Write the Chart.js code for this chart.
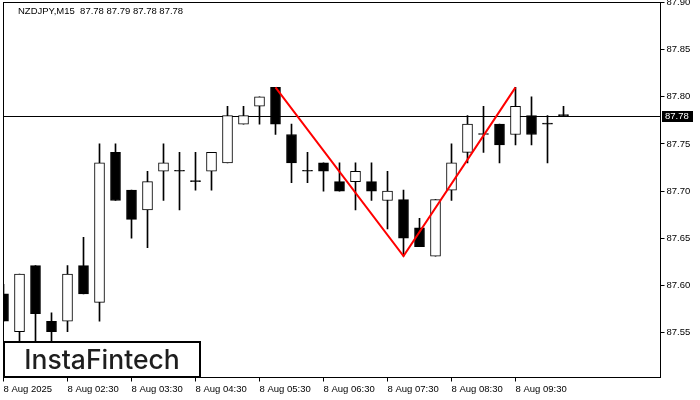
<!DOCTYPE html>
<html>
<head>
<meta charset="utf-8">
<script src="https://cdn.jsdelivr.net/npm/chart.js@4.4.1/dist/chart.umd.min.js"></script>
<style>
html, body { margin: 0; padding: 0; background: #fff; }
</style>
</head>
<body>
<canvas id="myChart" width="700" height="400"></canvas>
<script>
// NZDJPY M15, 8 Aug 2025
var symbol = 'NZDJPY,M15';
var times = ['01:30','01:45','02:00','02:15','02:30','02:45','03:00','03:15','03:30','03:45',
             '04:00','04:15','04:30','04:45','05:00','05:15','05:30','05:45','06:00','06:15',
             '06:30','06:45','07:00','07:15','07:30','07:45','08:00','08:15','08:30','08:45',
             '09:00','09:15','09:30','09:45','10:00','10:15'];
var opens  = [87.591,87.551,87.621,87.562,87.562,87.621,87.582,87.741,87.701,87.680,
              87.721,87.721,87.710,87.721,87.730,87.771,87.790,87.810,87.760,87.721,
              87.730,87.710,87.710,87.710,87.690,87.691,87.661,87.631,87.701,87.741,
              87.760,87.771,87.760,87.780,87.771,87.780];
var highs  = [87.601,87.612,87.621,87.571,87.621,87.651,87.750,87.750,87.701,87.721,
              87.750,87.741,87.741,87.741,87.790,87.790,87.800,87.810,87.771,87.741,
              87.730,87.730,87.730,87.730,87.721,87.701,87.671,87.691,87.750,87.780,
              87.790,87.771,87.810,87.800,87.780,87.790];
var lows   = [87.562,87.540,87.530,87.540,87.551,87.591,87.562,87.690,87.650,87.640,
              87.690,87.680,87.701,87.701,87.730,87.771,87.771,87.760,87.709,87.709,
              87.700,87.700,87.680,87.690,87.660,87.631,87.641,87.631,87.690,87.730,
              87.741,87.730,87.749,87.749,87.730,87.780];
var closes = [87.562,87.612,87.570,87.551,87.612,87.591,87.730,87.690,87.670,87.710,
              87.730,87.721,87.710,87.741,87.780,87.780,87.800,87.771,87.730,87.721,
              87.721,87.700,87.721,87.700,87.700,87.650,87.641,87.691,87.730,87.771,
              87.760,87.749,87.790,87.760,87.771,87.780];

// double top pattern: top - bottom - top
var patternIdx   = [17, 25, 32];
var patternPrice = [87.810, 87.631, 87.810];

var xTickIdx    = [0, 4, 8, 12, 16, 20, 24, 28, 32];
var xTickLabels = ['8 Aug 2025','8 Aug 02:30','8 Aug 03:30','8 Aug 04:30','8 Aug 05:30',
                   '8 Aug 06:30','8 Aug 07:30','8 Aug 08:30','8 Aug 09:30'];
var yTicks = [87.55, 87.60, 87.65, 87.70, 87.75, 87.80, 87.85, 87.90];

var lastPrice = closes[closes.length - 1];
var header = symbol + '  ' + opens[opens.length-1].toFixed(2) + ' ' + highs[highs.length-1].toFixed(2) + ' ' +
             lows[lows.length-1].toFixed(2) + ' ' + closes[closes.length-1].toFixed(2);

var lblFont = { family: 'Liberation Sans', size: 9.5 };

var wickData = [], bodyData = [], bodyColors = [];
for (var i = 0; i < times.length; i++) {
    wickData.push({ x: i, y: [lows[i], highs[i]] });
    bodyData.push({ x: i, y: [opens[i], closes[i]] });
    bodyColors.push(closes[i] <= opens[i] ? '#000' : '#fff');
}
var patternData = patternIdx.map(function(k, j){ return { x: k, y: patternPrice[j] }; });

var overlay = {
    id: 'overlay',
    beforeDatasetsDraw: function(chart) {
        var ctx = chart.ctx, a = chart.chartArea;
        var py = Math.round(chart.scales.y.getPixelForValue(lastPrice)) + 0.5;
        ctx.save();
        ctx.strokeStyle = '#000';
        ctx.lineWidth = 1;
        ctx.beginPath();
        ctx.moveTo(a.left, py);
        ctx.lineTo(a.right, py);
        ctx.stroke();
        ctx.restore();
    },
    afterDraw: function(chart) {
        var ctx = chart.ctx, a = chart.chartArea;
        ctx.save();
        // frame
        ctx.strokeStyle = '#000';
        ctx.lineWidth = 1;
        ctx.strokeRect(a.left, a.top, a.right - a.left, a.bottom - a.top);

        // current price label
        var py = Math.round(chart.scales.y.getPixelForValue(lastPrice));
        ctx.fillStyle = '#000';
        ctx.fillRect(662, py - 5, 31, 11);
        ctx.fillStyle = '#fff';
        ctx.font = '9.5px "Liberation Sans"';
        ctx.textAlign = 'left';
        ctx.textBaseline = 'middle';
        ctx.fillText(lastPrice.toFixed(2), 665, py + 0.5);

        // header
        ctx.fillStyle = '#000';
        ctx.fillText(header, 18, 11.5);

        // logo
        ctx.fillStyle = '#fff';
        ctx.fillRect(3, 341, 198, 37);
        ctx.strokeStyle = '#000';
        ctx.lineWidth = 2;
        ctx.strokeRect(4, 342, 196, 35);
        ctx.fillStyle = '#1e1e1e';
        ctx.font = '500 26.5px Inter';
        ctx.textAlign = 'center';
        ctx.textBaseline = 'alphabetic';
        ctx.fillText('InstaFintech', 102, 369);
        ctx.restore();
    }
};

var ctx = document.getElementById('myChart').getContext('2d');
var myChart = new Chart(ctx, {
    type: 'bar',
    data: {
        datasets: [{
            type: 'line',
            label: 'pattern',
            data: patternData,
            borderColor: '#ff0000',
            borderWidth: 2,
            pointRadius: 0,
            fill: false,
            tension: 0,
            order: 1
        }, {
            label: 'body',
            data: bodyData,
            backgroundColor: bodyColors,
            borderColor: '#000',
            borderWidth: 1,
            borderSkipped: false,
            barThickness: 10,
            minBarLength: 1,
            grouped: false,
            order: 2
        }, {
            label: 'wick',
            data: wickData,
            backgroundColor: '#000',
            borderWidth: 0,
            barThickness: 1,
            grouped: false,
            order: 3
        }]
    },
    options: {
        responsive: false,
        animation: false,
        layout: { padding: { left: 3.5, top: 2.5, right: 0, bottom: 0 } },
        plugins: { legend: { display: false }, tooltip: { enabled: false } },
        scales: {
            x: {
                type: 'linear',
                position: 'bottom',
                offset: false,
                min: 0,
                max: 41.0625,
                afterBuildTicks: function(s) { s.ticks = xTickIdx.map(function(v){ return { value: v }; }); },
                afterFit: function(s) { s.height = 22.5; s.paddingLeft = 0; s.paddingRight = 0; },
                ticks: {
                    autoSkip: false, maxRotation: 0, minRotation: 0, align: 'start', padding: 2,
                    color: '#000', font: lblFont,
                    callback: function(v) { var j = xTickIdx.indexOf(v); return j >= 0 ? xTickLabels[j] : ''; }
                },
                grid: { offset: false, drawOnChartArea: false, drawTicks: true, tickLength: 4, color: '#000' },
                border: { display: false }
            },
            y: {
                type: 'linear',
                position: 'right',
                min: 87.5023,
                max: 87.90,
                afterBuildTicks: function(s) { s.ticks = yTicks.map(function(v){ return { value: v }; }); },
                afterFit: function(s) { s.width = 39.5; s.paddingTop = 0; s.paddingBottom = 0; },
                ticks: {
                    padding: 2, color: '#000', font: lblFont,
                    callback: function(v) { return v.toFixed(2); }
                },
                grid: { drawOnChartArea: false, drawTicks: true, tickLength: 4, color: '#000' },
                border: { display: false }
            }
        }
    },
    plugins: [overlay]
});
</script>
</body>
</html>
